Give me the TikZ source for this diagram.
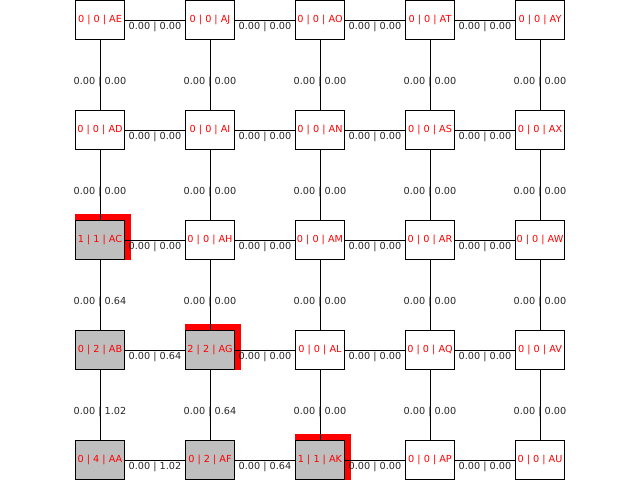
\documentclass[tikz,border=0pt]{standalone}
\usepackage{fontspec}
\setmainfont{DejaVu Sans}
\usetikzlibrary{calc,backgrounds}

\begin{document}
\begin{tikzpicture}[x=0.254mm, y=0.254mm, line width=0.65pt,
  every node/.style={font=\fontsize{7}{8}\selectfont},
  cell/.style={draw, fill=white, text=red, minimum width=36pt, minimum height=28.8pt, inner sep=0pt, outer sep=0pt},
  seen/.style={cell, fill=lightgray},
  cost/.style={midway, anchor=north, inner sep=0pt, yshift=-1pt, text=black!85}]
\useasboundingbox (0,0) rectangle (640,480);
% grid of cells, columns left to right, rows top to bottom
\node[cell] (AE) at (100,460) {0 | 0 | AE};
\node[cell] (AJ) at (210,460) {0 | 0 | AJ};
\node[cell] (AO) at (320,460) {0 | 0 | AO};
\node[cell] (AT) at (430,460) {0 | 0 | AT};
\node[cell] (AY) at (540,460) {0 | 0 | AY};
\node[cell] (AD) at (100,350) {0 | 0 | AD};
\node[cell] (AI) at (210,350) {0 | 0 | AI};
\node[cell] (AN) at (320,350) {0 | 0 | AN};
\node[cell] (AS) at (430,350) {0 | 0 | AS};
\node[cell] (AX) at (540,350) {0 | 0 | AX};
\node[seen] (AC) at (100,240) {1 | 1 | AC};
\node[cell] (AH) at (210,240) {0 | 0 | AH};
\node[cell] (AM) at (320,240) {0 | 0 | AM};
\node[cell] (AR) at (430,240) {0 | 0 | AR};
\node[cell] (AW) at (540,240) {0 | 0 | AW};
\node[seen] (AB) at (100,130) {0 | 2 | AB};
\node[seen] (AG) at (210,130) {2 | 2 | AG};
\node[cell] (AL) at (320,130) {0 | 0 | AL};
\node[cell] (AQ) at (430,130) {0 | 0 | AQ};
\node[cell] (AV) at (540,130) {0 | 0 | AV};
\node[seen] (AA) at (100,20) {0 | 4 | AA};
\node[seen] (AF) at (210,20) {0 | 2 | AF};
\node[seen] (AK) at (320,20) {1 | 1 | AK};
\node[cell] (AP) at (430,20) {0 | 0 | AP};
\node[cell] (AU) at (540,20) {0 | 0 | AU};
% red marks behind the current cells
\begin{scope}[on background layer]
\fill[red] ($(AC.north west)+(0,6)$) rectangle ($(AC.south east)+(6,0)$);
\fill[red] ($(AG.north west)+(0,6)$) rectangle ($(AG.south east)+(6,0)$);
\fill[red] ($(AK.north west)+(0,6)$) rectangle ($(AK.south east)+(6,0)$);
\end{scope}
% horizontal links
\draw (AE) -- (AJ) node[cost] {0.00 | 0.00};
\draw (AJ) -- (AO) node[cost] {0.00 | 0.00};
\draw (AO) -- (AT) node[cost] {0.00 | 0.00};
\draw (AT) -- (AY) node[cost] {0.00 | 0.00};
\draw (AD) -- (AI) node[cost] {0.00 | 0.00};
\draw (AI) -- (AN) node[cost] {0.00 | 0.00};
\draw (AN) -- (AS) node[cost] {0.00 | 0.00};
\draw (AS) -- (AX) node[cost] {0.00 | 0.00};
\draw (AC) -- (AH) node[cost] {0.00 | 0.00};
\draw (AH) -- (AM) node[cost] {0.00 | 0.00};
\draw (AM) -- (AR) node[cost] {0.00 | 0.00};
\draw (AR) -- (AW) node[cost] {0.00 | 0.00};
\draw (AB) -- (AG) node[cost] {0.00 | 0.64};
\draw (AG) -- (AL) node[cost] {0.00 | 0.00};
\draw (AL) -- (AQ) node[cost] {0.00 | 0.00};
\draw (AQ) -- (AV) node[cost] {0.00 | 0.00};
\draw (AA) -- (AF) node[cost] {0.00 | 1.02};
\draw (AF) -- (AK) node[cost] {0.00 | 0.64};
\draw (AK) -- (AP) node[cost] {0.00 | 0.00};
\draw (AP) -- (AU) node[cost] {0.00 | 0.00};
% vertical links
\draw (AE) -- (AD) node[cost] {0.00 | 0.00};
\draw (AJ) -- (AI) node[cost] {0.00 | 0.00};
\draw (AO) -- (AN) node[cost] {0.00 | 0.00};
\draw (AT) -- (AS) node[cost] {0.00 | 0.00};
\draw (AY) -- (AX) node[cost] {0.00 | 0.00};
\draw (AD) -- (AC) node[cost] {0.00 | 0.00};
\draw (AI) -- (AH) node[cost] {0.00 | 0.00};
\draw (AN) -- (AM) node[cost] {0.00 | 0.00};
\draw (AS) -- (AR) node[cost] {0.00 | 0.00};
\draw (AX) -- (AW) node[cost] {0.00 | 0.00};
\draw (AC) -- (AB) node[cost] {0.00 | 0.64};
\draw (AH) -- (AG) node[cost] {0.00 | 0.00};
\draw (AM) -- (AL) node[cost] {0.00 | 0.00};
\draw (AR) -- (AQ) node[cost] {0.00 | 0.00};
\draw (AW) -- (AV) node[cost] {0.00 | 0.00};
\draw (AB) -- (AA) node[cost] {0.00 | 1.02};
\draw (AG) -- (AF) node[cost] {0.00 | 0.64};
\draw (AL) -- (AK) node[cost] {0.00 | 0.00};
\draw (AQ) -- (AP) node[cost] {0.00 | 0.00};
\draw (AV) -- (AU) node[cost] {0.00 | 0.00};
\end{tikzpicture}
\end{document}
